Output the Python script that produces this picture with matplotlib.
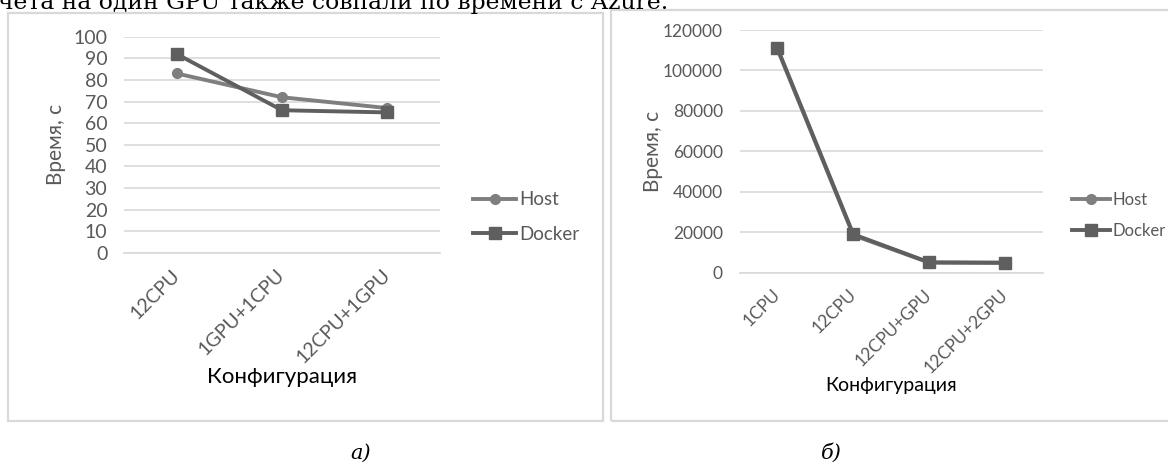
import matplotlib
matplotlib.use("Agg")
import matplotlib.pyplot as plt
from matplotlib.patches import Rectangle
from matplotlib.transforms import ScaledTranslation

# --- data -------------------------------------------------------------
cfg_a = ["12CPU", "1GPU+1CPU", "12CPU+1GPU"]
host_a = [83, 72, 67]
docker_a = [92, 66, 65]

cfg_b = ["1CPU", "12CPU", "12CPU+GPU", "12CPU+2GPU"]
host_b = [110500, 18500, 5000, 4800]
docker_b = [111000, 19000, 5100, 5000]

W, H = 1168, 466
GRID = "#d9d9d9"
TXT = "#595959"
HOST_C = "#7f7f7f"
DOCK_C = "#5f5f5f"

plt.rcParams["font.family"] = ["Lato", "Noto Sans", "DejaVu Sans"]

fig = plt.figure(figsize=(W / 100, H / 100), dpi=100)


def rect(x0, y0, x1, y1):
    # pixel box (top-left origin) -> figure fraction
    return [x0 / W, 1 - y1 / H, (x1 - x0) / W, (y1 - y0) / H]


def frame(x0, y0, x1, y1):
    fig.patches.append(Rectangle((x0 / W, 1 - y1 / H), (x1 - x0) / W, (y1 - y0) / H,
                                 transform=fig.transFigure, fill=False,
                                 edgecolor=GRID, linewidth=1.6, zorder=0))


def style(ax, cats, ylim, step, fs, pad_pt, dx_pt):
    ax.set_xlim(-0.5, len(cats) - 0.5)
    ax.set_ylim(*ylim)
    ax.set_yticks(range(ylim[0], ylim[1] + 1, step))
    ax.set_xticks(range(len(cats)))
    ax.set_xticklabels(cats, rotation=45, ha="right", va="center",
                       rotation_mode="anchor")
    for lab in ax.get_xticklabels():
        lab.set_transform(lab.get_transform() + ScaledTranslation(dx_pt / 72, 0, fig.dpi_scale_trans))
    ax.tick_params(axis="both", length=0, colors=TXT, labelsize=fs)
    ax.tick_params(axis="x", pad=pad_pt)
    ax.tick_params(axis="y", pad=12)
    ax.grid(axis="y", color=GRID, linewidth=1.2)
    ax.set_axisbelow(True)
    for s in ["top", "right", "left"]:
        ax.spines[s].set_visible(False)
    ax.spines["bottom"].set_color(GRID)
    ax.spines["bottom"].set_linewidth(1.2)
    ax.set_facecolor("none")


def legend_at(ax, x_px, y_px, fs, spacing):
    # legend with its handle starting at pixel x, rows centred on pixel y
    ax.legend(loc="center left", bbox_to_anchor=(x_px / W, 1 - y_px / H),
              bbox_transform=fig.transFigure, frameon=False, fontsize=fs,
              handlelength=2.3, handletextpad=0.15, borderpad=0,
              borderaxespad=0, labelspacing=spacing, labelcolor=TXT)


# --- panel a ----------------------------------------------------------
frame(8, 13, 603, 421)
ax1 = fig.add_axes(rect(124, 36.7, 440, 253))
xa = range(len(cfg_a))
ax1.plot(xa, host_a, color=HOST_C, lw=2.8, marker="o", ms=7, label="Host", zorder=3)
ax1.plot(xa, docker_a, color=DOCK_C, lw=2.8, marker="s", ms=8.5, label="Docker", zorder=4)
style(ax1, cfg_a, (0, 100), 10, 14, 14, 4)
ax1.set_ylabel("Время, с", color=TXT, fontsize=15)
ax1.yaxis.set_label_coords((66 - 124) / 316, 0.5)
ax1.text(0.5, -(377 - 253) / 216.3, "Конфигурация", transform=ax1.transAxes,
         ha="center", va="center", fontsize=16, color="black")
legend_at(ax1, 473, 217, 13.5, 0.95)

# --- panel b ----------------------------------------------------------
frame(611, 10, 1180, 421)
ax2 = fig.add_axes(rect(739.5, 30, 1043, 272.7))
xb = range(len(cfg_b))
ax2.plot(xb, host_b, color=HOST_C, lw=2.8, marker="o", ms=7, label="Host", zorder=3)
ax2.plot(xb, docker_b, color=DOCK_C, lw=2.8, marker="s", ms=8, label="Docker", zorder=4)
style(ax2, cfg_b, (0, 120000), 20000, 12.5, 14, 4)
ax2.set_ylabel("Время, с", color=TXT, fontsize=15)
ax2.yaxis.set_label_coords((663 - 739.5) / 303.5, 0.5)
ax2.text(0.5, -(386 - 272.7) / 242.7, "Конфигурация", transform=ax2.transAxes,
         ha="center", va="center", fontsize=14, color="black")
legend_at(ax2, 1071.5, 215.5, 12, 0.9)

# --- captions and the line of body text above ------------------------
fig.text(361 / W, 1 - 453 / H, "а)", ha="center", va="center", fontsize=15,
         style="italic", family="DejaVu Serif")
fig.text(831 / W, 1 - 453 / H, "б)", ha="center", va="center", fontsize=15,
         style="italic", family="DejaVu Serif")
fig.text(-2 / W, 1 - 9 / H, "чета на один GPU также совпали по времени с Azure.",
         ha="left", va="baseline", fontsize=16.9, family="DejaVu Serif")

fig.savefig("out.png", dpi=100)
